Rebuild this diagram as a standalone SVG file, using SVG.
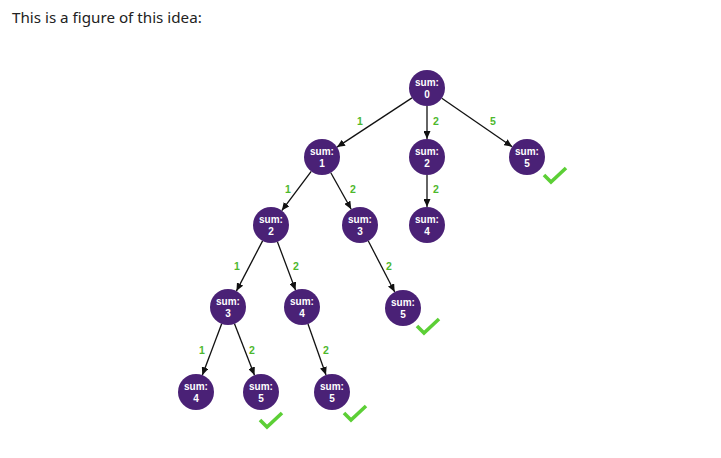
<svg xmlns="http://www.w3.org/2000/svg" width="721" height="458" viewBox="0 0 721 458">
<style>
.node circle{fill:#4a2176;}
.node text{fill:#fff;font-family:"Liberation Sans",Arial,sans-serif;font-size:10px;font-weight:bold;text-anchor:middle;}
.edges line{stroke:#111;stroke-width:1.3;marker-end:url(#arr);}
.lbl{fill:#4db82d;font-family:"Liberation Sans",Arial,sans-serif;font-size:10.5px;font-weight:bold;text-anchor:middle;}
.chk{fill:none;stroke:#5ccf36;stroke-width:3.6;}
</style>
<defs>
<marker id="arr" markerUnits="userSpaceOnUse" markerWidth="9" markerHeight="7" refX="8" refY="3.5" orient="auto">
<path d="M0,0 L8,3.5 L0,7 z" fill="#111"/>
</marker>
<path id="check" d="M1,7 L8,14 L23,0"/>
</defs>
<rect width="721" height="458" fill="#fff"/>
<text x="12" y="23" fill="#222" font-family="'Noto Sans','Open Sans',sans-serif" font-size="15.2">This is a figure of this idea:</text>
<g class="edges">
<line x1="412" y1="97.9" x2="337" y2="147.1"/>
<line x1="427" y1="106" x2="427" y2="139"/>
<line x1="441.8" y1="98.2" x2="512.2" y2="146.8"/>
<line x1="311.2" y1="171.4" x2="281.8" y2="210.6"/>
<line x1="330.8" y1="172.7" x2="351.2" y2="209.3"/>
<line x1="427" y1="175" x2="427" y2="207"/>
<line x1="262.6" y1="240.9" x2="236.4" y2="291.1"/>
<line x1="277.4" y1="241.8" x2="295.6" y2="290.2"/>
<line x1="368.3" y1="241" x2="394.7" y2="292"/>
<line x1="221.7" y1="323.8" x2="202.3" y2="375.2"/>
<line x1="234.5" y1="323.8" x2="254.5" y2="375.2"/>
<line x1="308" y1="324" x2="326" y2="375"/>
<text class="lbl" x="360" y="125">1</text>
<text class="lbl" x="436" y="125">2</text>
<text class="lbl" x="493" y="125">5</text>
<text class="lbl" x="288" y="193">1</text>
<text class="lbl" x="353" y="193">2</text>
<text class="lbl" x="436" y="193">2</text>
<text class="lbl" x="237" y="270">1</text>
<text class="lbl" x="296" y="270">2</text>
<text class="lbl" x="389" y="270">2</text>
<text class="lbl" x="202" y="354">1</text>
<text class="lbl" x="252" y="354">2</text>
<text class="lbl" x="326" y="354">2</text>
</g>
<g id="n0" class="node"><circle cx="427" cy="88" r="18"/><text x="427" y="86">sum:</text><text x="427" y="98">0</text></g>
<g id="n1" class="node"><circle cx="322" cy="157" r="18"/><text x="322" y="155">sum:</text><text x="322" y="167">1</text></g>
<g id="n2" class="node"><circle cx="427" cy="157" r="18"/><text x="427" y="155">sum:</text><text x="427" y="167">2</text></g>
<g id="n3" class="node"><circle cx="527" cy="157" r="18"/><text x="527" y="155">sum:</text><text x="527" y="167">5</text></g>
<g id="n4" class="node"><circle cx="271" cy="225" r="18"/><text x="271" y="223">sum:</text><text x="271" y="235">2</text></g>
<g id="n5" class="node"><circle cx="360" cy="225" r="18"/><text x="360" y="223">sum:</text><text x="360" y="235">3</text></g>
<g id="n6" class="node"><circle cx="427" cy="225" r="18"/><text x="427" y="223">sum:</text><text x="427" y="235">4</text></g>
<g id="n7" class="node"><circle cx="228" cy="307" r="18"/><text x="228" y="305">sum:</text><text x="228" y="317">3</text></g>
<g id="n8" class="node"><circle cx="302" cy="307" r="18"/><text x="302" y="305">sum:</text><text x="302" y="317">4</text></g>
<g id="n9" class="node"><circle cx="403" cy="308" r="18"/><text x="403" y="306">sum:</text><text x="403" y="318">5</text></g>
<g id="n10" class="node"><circle cx="196" cy="392" r="18"/><text x="196" y="390">sum:</text><text x="196" y="402">4</text></g>
<g id="n11" class="node"><circle cx="261" cy="392" r="18"/><text x="261" y="390">sum:</text><text x="261" y="402">5</text></g>
<g id="n12" class="node"><circle cx="332" cy="392" r="18"/><text x="332" y="390">sum:</text><text x="332" y="402">5</text></g>
<g id="checks">
<use href="#check" class="chk" x="543" y="168"/>
<use href="#check" class="chk" x="259" y="413"/>
<use href="#check" class="chk" x="343" y="406"/>
<use href="#check" class="chk" x="416" y="319"/>
</g>
</svg>
